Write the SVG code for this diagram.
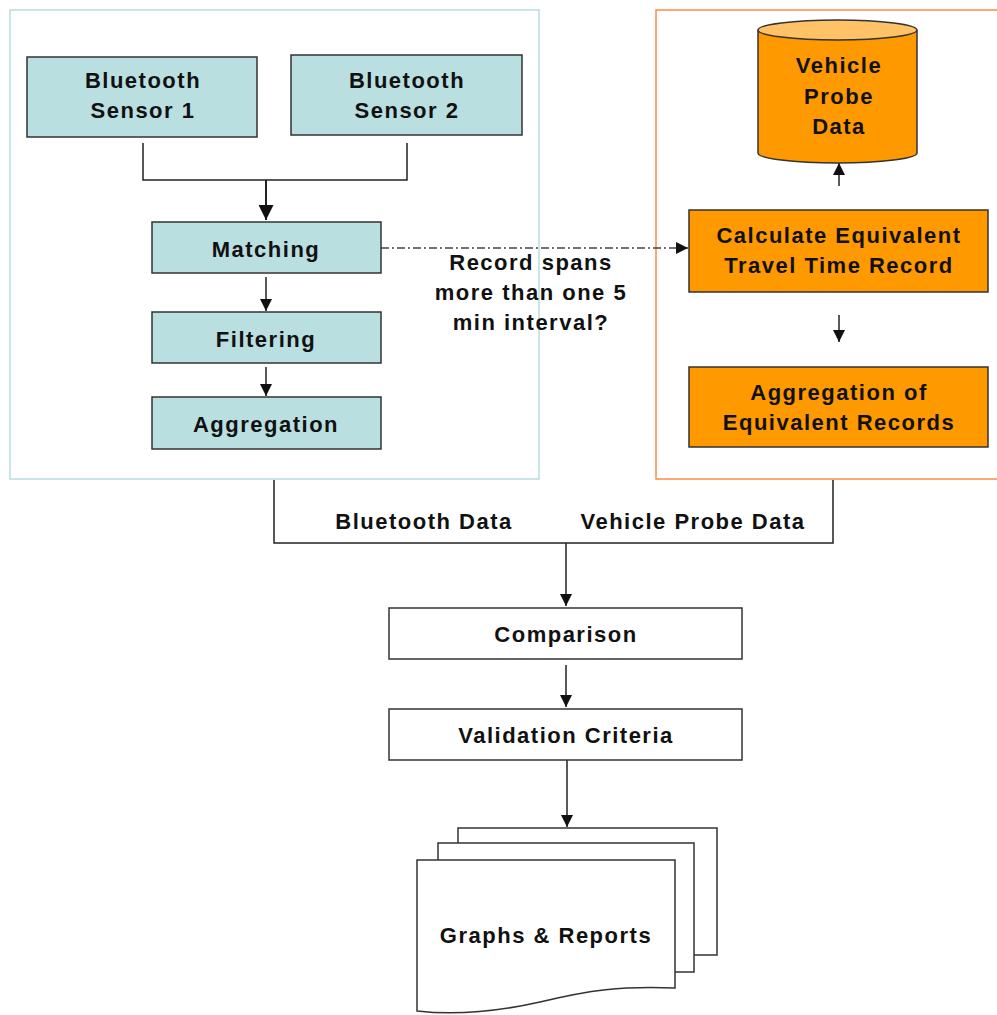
<svg xmlns="http://www.w3.org/2000/svg" width="997" height="1015" viewBox="0 0 997 1015">
<style>
  .t { font-family: "Liberation Sans", Arial, sans-serif; font-weight: bold; font-size: 22px; letter-spacing: 1.5px; fill: #111; text-anchor: middle; }
  .blue { fill: #B9DFE1; stroke: #333; stroke-width: 1.5; }
  .orange { fill: #FF9900; stroke: #333; stroke-width: 1.5; }
  .white { fill: #FFFFFF; stroke: #333; stroke-width: 1.5; }
  .line { fill: none; stroke: #222; stroke-width: 1.5; }
  .thick { fill: none; stroke: #222; stroke-width: 2; }
  .dash { fill: none; stroke: #444; stroke-width: 1.5; stroke-dasharray: 8 3 2 3; }
</style>
<defs>
  <marker id="arr" viewBox="0 0 12 12" refX="12" refY="6" markerWidth="13" markerHeight="12" markerUnits="userSpaceOnUse" orient="auto">
    <path d="M0,0 L12,6 L0,12 z" fill="#111"/>
  </marker>
  <marker id="arrBig" viewBox="0 0 12 12" refX="12" refY="6" markerWidth="16" markerHeight="15" markerUnits="userSpaceOnUse" orient="auto">
    <path d="M0,0 L12,6 L0,12 z" fill="#111"/>
  </marker>
</defs>
<rect width="997" height="1015" fill="#FFFFFF"/>

<g id="container-bluetooth">
  <rect x="10" y="10" width="529" height="469" fill="none" stroke="#B8DDE0" stroke-width="1.5"/>
</g>
<g id="container-probe">
  <rect x="656" y="10" width="345" height="469" fill="none" stroke="#FF8A45" stroke-width="1.5"/>
</g>

<g id="connectors">
  <path class="line" d="M143,143 V180 H407 V143"/>
  <path class="thick" d="M266,180 V220" marker-end="url(#arrBig)"/>
  <path class="line" d="M266,277 V311" marker-end="url(#arr)"/>
  <path class="line" d="M266,367 V396" marker-end="url(#arr)"/>
  <path class="dash" d="M381,248 H688" marker-end="url(#arr)"/>
  <path class="line" d="M839,186 V163" marker-end="url(#arr)"/>
  <path class="line" d="M839,315 V342" marker-end="url(#arr)"/>
  <path class="line" d="M274,480 V543 H833 V480"/>
  <path class="line" d="M566,543 V606" marker-end="url(#arr)"/>
  <path class="line" d="M566,665 V707" marker-end="url(#arr)"/>
  <path class="line" d="M567,760 V827" marker-end="url(#arr)"/>
</g>

<g id="sensor1">
  <rect class="blue" x="27" y="57" width="230" height="80"/>
  <text class="t" x="143" y="88">Bluetooth</text>
  <text class="t" x="143" y="118">Sensor 1</text>
</g>
<g id="sensor2">
  <rect class="blue" x="291" y="55" width="231" height="80"/>
  <text class="t" x="407" y="88">Bluetooth</text>
  <text class="t" x="407" y="118">Sensor 2</text>
</g>
<g id="matching">
  <rect class="blue" x="152" y="222" width="229" height="51"/>
  <text class="t" x="266" y="257">Matching</text>
</g>
<g id="filtering">
  <rect class="blue" x="152" y="312" width="229" height="51"/>
  <text class="t" x="266" y="347">Filtering</text>
</g>
<g id="aggregation">
  <rect class="blue" x="152" y="397" width="229" height="52"/>
  <text class="t" x="266" y="432">Aggregation</text>
</g>

<g id="label-record-spans">
  <text class="t" x="531" y="270">Record spans</text>
  <text class="t" x="531" y="300">more than one 5</text>
  <text class="t" x="531" y="330">min interval?</text>
</g>

<g id="vehicle-probe-data">
  <path class="orange" d="M758,30 V153 A79.5,10 0 0 0 917,153 V30"/>
  <ellipse cx="837.5" cy="30" rx="79.5" ry="10" fill="#FFC266" stroke="#333" stroke-width="1.5"/>
  <text class="t" x="839" y="73">Vehicle</text>
  <text class="t" x="839" y="104">Probe</text>
  <text class="t" x="839" y="134">Data</text>
</g>
<g id="calculate">
  <rect class="orange" x="689" y="210" width="299" height="82"/>
  <text class="t" x="839" y="243">Calculate Equivalent</text>
  <text class="t" x="839" y="273">Travel Time Record</text>
</g>
<g id="aggregation-equivalent">
  <rect class="orange" x="689" y="367" width="299" height="80"/>
  <text class="t" x="839" y="400">Aggregation of</text>
  <text class="t" x="839" y="430">Equivalent Records</text>
</g>

<g id="labels-data">
  <text class="t" x="424" y="529">Bluetooth Data</text>
  <text class="t" x="693" y="529">Vehicle Probe Data</text>
</g>

<g id="comparison">
  <rect class="white" x="389" y="608" width="353" height="51"/>
  <text class="t" x="566" y="642">Comparison</text>
</g>
<g id="validation">
  <rect class="white" x="389" y="709" width="353" height="51"/>
  <text class="t" x="566" y="743">Validation Criteria</text>
</g>

<g id="graphs-reports">
  <path class="white" d="M458,843 V828 H717 V955 H694"/>
  <path class="white" d="M438,860 V843 H694 V972 H675"/>
  <path class="white" d="M417,860 H675 V988 C620,986 590,990 540,1002 C500,1011 460,1016 417,1011 Z"/>
  <text class="t" x="546" y="943">Graphs &amp; Reports</text>
</g>
</svg>
